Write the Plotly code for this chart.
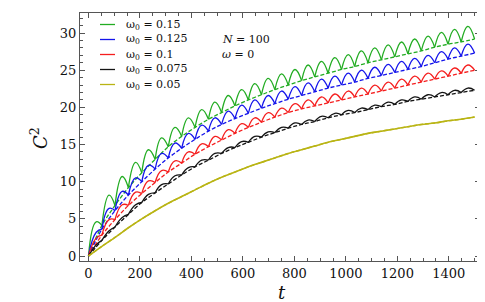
import plotly.graph_objects as go

# ---------------- data ----------------
# times of the cusps (minima of the oscillating curves) and of the arch tops
t_cusp = [0, 52, 103, 155, 207, 259, 310, 362, 414, 466, 517, 569, 621, 672, 724,
          776, 828, 879, 931, 983, 1034, 1086, 1138, 1190, 1241, 1293, 1345, 1397, 1448, 1500]
t_peak = [30, 80, 131, 183, 233, 284, 336, 388, 440, 491, 543, 595, 646, 698, 750,
          802, 853, 905, 957, 1009, 1060, 1112, 1164, 1216, 1267, 1319, 1371, 1422, 1474]

# omega0 = 0.15 (green)
green_trend = [0, 4.1, 6.8, 9.2, 11.2, 13.0, 14.7, 16.1, 17.3, 18.4, 19.3, 20.2, 21.0, 21.7, 22.4,
               23.0, 23.6, 24.1, 24.6, 25.1, 25.5, 26.0, 26.4, 26.8, 27.2, 27.6, 28.1, 28.5, 28.8, 29.2]
green_peak = [4.6, 8.2, 10.7, 12.6, 14.3, 15.9, 17.3, 18.6, 19.7, 20.7, 21.6, 22.4, 23.2, 23.9, 24.5,
              25.1, 25.7, 26.2, 26.7, 27.1, 27.6, 28.0, 28.4, 28.8, 29.2, 29.6, 30.1, 30.5, 30.9]

# omega0 = 0.125 (blue)
blue_trend = [0, 3.6, 6.1, 8.2, 10.0, 11.7, 13.2, 14.5, 15.7, 16.8, 17.7, 18.5, 19.2, 19.9, 20.5,
              21.1, 21.6, 22.1, 22.6, 23.0, 23.4, 23.9, 24.3, 24.7, 25.1, 25.5, 26.0, 26.5, 26.9, 27.3]
blue_peak = [3.2, 6.4, 8.7, 10.5, 12.2, 13.8, 15.2, 16.5, 17.6, 18.6, 19.5, 20.3, 21.0, 21.6, 22.2,
             22.8, 23.3, 23.8, 24.2, 24.6, 25.0, 25.4, 25.8, 26.2, 26.6, 27.0, 27.5, 28.0, 28.5]

# omega0 = 0.1 (red)
red_trend = [0, 2.8, 4.9, 6.8, 8.4, 9.9, 11.3, 12.5, 13.7, 14.7, 15.6, 16.5, 17.3, 18.0, 18.7,
             19.3, 19.8, 20.2, 20.6, 21.0, 21.4, 21.8, 22.2, 22.6, 23.0, 23.4, 23.8, 24.2, 24.6, 25.0]
red_peak = [2.4, 4.9, 6.9, 8.6, 10.1, 11.5, 12.8, 14.0, 15.1, 16.1, 17.0, 17.8, 18.6, 19.3, 19.9,
            20.5, 21.0, 21.4, 21.8, 22.2, 22.6, 23.0, 23.4, 23.8, 24.2, 24.6, 24.9, 25.3, 25.7]

# omega0 = 0.075 (black)
black_trend = [0, 2.1, 3.9, 5.6, 7.2, 8.5, 9.7, 10.9, 12.0, 12.9, 13.8, 14.6, 15.3, 16.0, 16.6,
               17.2, 17.7, 18.1, 18.6, 19.0, 19.3, 19.7, 20.1, 20.4, 20.8, 21.1, 21.4, 21.7, 22.0, 22.3]
black_peak = [1.5, 3.4, 5.2, 6.9, 8.3, 9.6, 10.8, 11.9, 12.9, 13.8, 14.6, 15.4, 16.1, 16.7, 17.3,
              17.9, 18.3, 18.8, 19.2, 19.6, 19.9, 20.3, 20.7, 21.0, 21.4, 21.7, 22.0, 22.3, 22.6]

# omega0 = 0.05 (olive)
olive_solid = [0, 1.3, 2.5, 3.8, 5.0, 6.1, 7.1, 8.0, 8.9, 9.8, 10.6, 11.3, 12.0, 12.6, 13.2,
               13.8, 14.3, 14.8, 15.3, 15.7, 16.1, 16.5, 16.8, 17.1, 17.4, 17.7, 17.9, 18.2, 18.4, 18.7]
olive_dashed = [0, 1.3, 2.5, 3.8, 5.0, 6.1, 7.1, 8.0, 8.9, 9.8, 10.6, 11.3, 12.0, 12.6, 13.2,
                13.8, 14.3, 14.8, 15.3, 15.7, 16.1, 16.5, 16.8, 17.1, 17.4, 17.7, 17.9, 18.2, 18.4, 18.7]

labels = ["0.15", "0.125", "0.1", "0.075", "0.05"]
x_ticks = [0, 200, 400, 600, 800, 1000, 1200, 1400]
y_ticks = [0, 5, 10, 15, 20, 25, 30]

# ---------------- styling ----------------
colors = ["rgb(34,172,34)", "rgb(20,20,235)", "rgb(245,30,30)", "rgb(20,20,20)", "rgb(185,180,20)"]
FONT = "DejaVu Serif"
LW = 1.3

fig = go.Figure()

osc = [(green_trend, green_peak), (blue_trend, blue_peak),
       (red_trend, red_peak), (black_trend, black_peak)]

for (trend, peak), col in zip(osc, colors[:4]):
    xs, ys = [], []
    for i in range(len(t_peak)):
        xs += [t_cusp[i], t_peak[i], t_cusp[i + 1], None]
        ys += [trend[i], peak[i], trend[i + 1], None]
    fig.add_trace(go.Scatter(x=xs, y=ys, mode="lines", connectgaps=False,
                             line=dict(color=col, width=LW, shape="spline", smoothing=1.3),
                             showlegend=False, hoverinfo="skip"))
    fig.add_trace(go.Scatter(x=t_cusp, y=trend, mode="lines",
                             line=dict(color=col, width=LW, dash="4px,2px", shape="spline"),
                             showlegend=False, hoverinfo="skip"))

fig.add_trace(go.Scatter(x=t_cusp, y=olive_solid, mode="lines",
                         line=dict(color=colors[4], width=1.6, shape="spline"),
                         showlegend=False, hoverinfo="skip"))
fig.add_trace(go.Scatter(x=t_cusp, y=olive_dashed, mode="lines",
                         line=dict(color=colors[4], width=1.4, dash="4px,2px", shape="spline"),
                         showlegend=False, hoverinfo="skip"))

# ---------------- manual legend ----------------
W, H = 400.0, 248.0       # plot area size in px
L, T = 72.0, 5.0          # plot area offset
def px(x):
    return (x - L) / W
def py(y):
    return (T + H - y) / H

rows = [16.5, 31.5, 46.5, 61.5, 76.5]
annotations = []
shapes = []
for lab, col, yr in zip(labels, colors, rows):
    shapes.append(dict(type="line", xref="paper", yref="paper",
                       x0=px(92), x1=px(107), y0=py(yr), y1=py(yr),
                       line=dict(color=col, width=LW)))
    annotations.append(dict(xref="paper", yref="paper", x=px(116), y=py(yr),
                            xanchor="left", yanchor="middle", showarrow=False,
                            text="ω<sub>0</sub> = " + lab,
                            font=dict(family=FONT, size=11, color="#111")))

annotations.append(dict(xref="paper", yref="paper", x=px(212), y=py(31.5),
                        xanchor="left", yanchor="middle", showarrow=False,
                        text="<i>N</i> = 100", font=dict(family=FONT, size=11, color="#111")))
annotations.append(dict(xref="paper", yref="paper", x=px(212), y=py(46.5),
                        xanchor="left", yanchor="middle", showarrow=False,
                        text="<i>ω</i> = 0", font=dict(family=FONT, size=11, color="#111")))

# axis titles
annotations.append(dict(xref="paper", yref="paper", x=px(31), y=py(130),
                        xanchor="center", yanchor="middle", showarrow=False, textangle=-90,
                        text="<i>C</i><sup>2</sup>", font=dict(family=FONT, size=18, color="#111")))
annotations.append(dict(xref="paper", yref="paper", x=px(274), y=py(284),
                        xanchor="center", yanchor="middle", showarrow=False,
                        text="<i>t</i>", font=dict(family=FONT, size=18, color="#111")))

axis_common = dict(showgrid=False, zeroline=False, showline=True, linecolor="#555",
                   linewidth=1, mirror="allticks", ticks="inside", ticklen=5,
                   tickcolor="#555", tickwidth=1,
                   tickfont=dict(family=FONT, size=13, color="#111"))

fig.update_layout(
    width=485, height=302,
    margin=dict(l=72, r=13, t=5, b=49),
    paper_bgcolor="white", plot_bgcolor="white",
    font=dict(family=FONT),
    xaxis=dict(range=[-33, 1521], tickvals=x_ticks,
               minor=dict(dtick=50, tick0=0, ticks="inside", ticklen=3, tickcolor="#555"),
               **axis_common),
    yaxis=dict(range=[-0.67, 32.7], tickvals=y_ticks,
               minor=dict(dtick=1, tick0=0, ticks="inside", ticklen=3, tickcolor="#555"),
               **axis_common),
    annotations=annotations, shapes=shapes,
)

fig.write_html("out.html")
